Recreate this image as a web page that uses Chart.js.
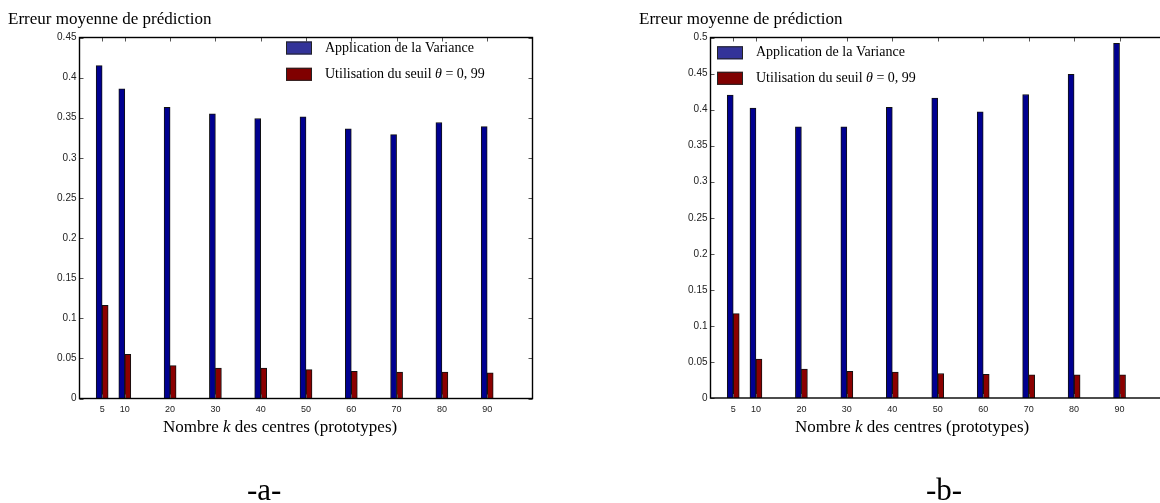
<!DOCTYPE html>
<html>
<head>
<meta charset="utf-8">
<script src="https://cdn.jsdelivr.net/npm/chart.js@4.4.0/dist/chart.umd.min.js"></script>
<style>
  html, body { margin:0; padding:0; width:1160px; height:503px; overflow:hidden; background:#fff; }
  .abs { position:absolute; white-space:nowrap; font-family:"Liberation Serif","Times New Roman",serif; color:#000; }
  canvas { position:absolute; top:0; }
</style>
</head>
<body>
<canvas id="cA" width="560" height="503" style="left:0px"></canvas>
<canvas id="cB" width="600" height="503" style="left:580px"></canvas>

<div class="abs" style="left:8px; top:10px; font-size:17px; line-height:17px;">Erreur moyenne de prédiction</div>
<div class="abs" style="left:639px; top:10px; font-size:17px; line-height:17px;">Erreur moyenne de prédiction</div>
<div class="abs" style="left:163px; top:418px; font-size:17px; line-height:17px;">Nombre <i>k</i> des centres (prototypes)</div>
<div class="abs" style="left:795px; top:418px; font-size:17px; line-height:17px;">Nombre <i>k</i> des centres (prototypes)</div>
<div class="abs" style="left:247px; top:474px; font-size:31px; line-height:31px;">-a-</div>
<div class="abs" style="left:926px; top:474px; font-size:31px; line-height:31px;">-b-</div>

<script>
// ---- data ----
const categories = [5, 10, 20, 30, 40, 50, 60, 70, 80, 90];
const xTicks = [5, 10, 20, 30, 40, 50, 60, 70, 80, 90];

const varianceA = [0.415, 0.386, 0.363, 0.355, 0.349, 0.351, 0.336, 0.329, 0.344, 0.339];
const seuilA    = [0.116, 0.055, 0.041, 0.038, 0.038, 0.036, 0.034, 0.033, 0.033, 0.032];

const varianceB = [0.420, 0.402, 0.376, 0.376, 0.403, 0.416, 0.397, 0.421, 0.449, 0.492];
const seuilB    = [0.117, 0.054, 0.040, 0.037, 0.036, 0.034, 0.033, 0.032, 0.032, 0.032];

const yTicksA = [0, 0.05, 0.1, 0.15, 0.2, 0.25, 0.3, 0.35, 0.4, 0.45];
const yTicksB = [0, 0.05, 0.1, 0.15, 0.2, 0.25, 0.3, 0.35, 0.4, 0.45, 0.5];

const seriesLabels = ['Application de la Variance', 'Utilisation du seuil '];
const thetaPart = ['θ', ' = 0, 99'];

// ---- plugins ----
const framePlugin = {
  id: 'frame',
  afterDatasetsDraw(chart) {
    const {ctx, chartArea: a, scales} = chart;
    ctx.save();
    ctx.strokeStyle = '#555';
    ctx.lineWidth = 1;
    const tl = 4;
    scales.y.ticks.forEach(t => {
      const y = Math.round(scales.y.getPixelForValue(t.value)) + 0.5;
      ctx.beginPath();
      ctx.moveTo(a.left, y); ctx.lineTo(a.left + tl, y);
      ctx.moveTo(a.right, y); ctx.lineTo(a.right - tl, y);
      ctx.stroke();
    });
    scales.x.ticks.forEach(t => {
      const x = Math.round(scales.x.getPixelForValue(t.value)) + 0.5;
      ctx.beginPath();
      ctx.moveTo(x, a.top); ctx.lineTo(x, a.top + tl);
      ctx.moveTo(x, a.bottom); ctx.lineTo(x, a.bottom - tl);
      ctx.stroke();
    });
    ctx.strokeStyle = '#000';
    ctx.lineWidth = 1.4;
    ctx.strokeRect(a.left, a.top, a.right - a.left, a.bottom - a.top);
    ctx.restore();
  }
};

const legendPlugin = {
  id: 'customLegend',
  afterDraw(chart, args, opts) {
    const {ctx, chartArea: a} = chart;
    ctx.save();
    const colors = ['#333399', '#800000'];
    const bx = a.left + opts.dx, by0 = a.top + opts.dy;
    for (let i = 0; i < 2; i++) {
      const cy = by0 + i * opts.gap;
      ctx.fillStyle = colors[i];
      ctx.fillRect(bx, cy - 6.5, 26, 13);
      ctx.strokeStyle = '#222';
      ctx.lineWidth = 1;
      ctx.strokeRect(bx + 0.5, cy - 6, 25, 12);
      ctx.fillStyle = '#000';
      ctx.textBaseline = 'middle';
      let tx = bx + 39;
      ctx.font = '14px "Liberation Serif", serif';
      ctx.fillText(seriesLabels[i], tx, cy);
      if (i === 1) {
        tx += ctx.measureText(seriesLabels[i]).width;
        ctx.font = 'italic 14px "Liberation Serif", serif';
        ctx.fillText(thetaPart[0], tx, cy);
        tx += ctx.measureText(thetaPart[0]).width;
        ctx.font = '14px "Liberation Serif", serif';
        ctx.fillText(thetaPart[1], tx, cy);
      }
    }
    ctx.restore();
  }
};

function fmt(v) { return String(Number(Number(v).toFixed(2))); }

function makeChart(id, variance, seuil, yMax, yTicks, geo, legendGeo) {
  return new Chart(document.getElementById(id), {
    type: 'bar',
    data: {
      datasets: [
        { label: seriesLabels[0], data: categories.map((c, i) => ({x: c, y: variance[i]})),
          backgroundColor: '#000090', borderColor: '#111', borderWidth: 1, barThickness: 6 },
        { label: seriesLabels[1] + thetaPart.join(''), data: categories.map((c, i) => ({x: c, y: seuil[i]})),
          backgroundColor: '#8b0000', borderColor: '#111', borderWidth: 1, barThickness: 6 }
      ]
    },
    options: {
      responsive: false,
      animation: false,
      devicePixelRatio: 1,
      layout: { padding: { left: 0, right: geo.padRight, top: geo.top, bottom: geo.padBottom } },
      plugins: { legend: { display: false }, tooltip: { enabled: false }, customLegend: legendGeo },
      scales: {
        x: {
          type: 'linear', min: 0, max: 100, offset: false,
          grid: { display: false, drawTicks: false, offset: false },
          border: { display: false },
          afterBuildTicks: s => { s.ticks = xTicks.map(v => ({value: v})); },
          afterFit: s => { s.height = 30; },
          ticks: { autoSkip: false, maxRotation: 0, padding: 6, color: '#222',
                   font: { family: '"Liberation Sans", Arial, sans-serif', size: 9 },
                   callback: v => String(v) }
        },
        y: {
          min: 0, max: yMax,
          grid: { display: false, drawTicks: false },
          border: { display: false },
          afterBuildTicks: s => { s.ticks = yTicks.map(v => ({value: v})); },
          afterFit: s => { s.width = geo.yWidth; },
          ticks: { padding: 3, color: '#222',
                   font: { family: '"Liberation Sans", Arial, sans-serif', size: 10 },
                   callback: v => fmt(v) }
        }
      }
    },
    plugins: [framePlugin, legendPlugin]
  });
}

makeChart('cA', varianceA, seuilA, 0.45, yTicksA,
  { yWidth: 79.5, padRight: 560 - 532.5, top: 37.5, padBottom: 503 - 398.5 - 30 },
  { dx: 206.5, dy: 10.5, gap: 26.3 });
makeChart('cB', varianceB, seuilB, 0.5, yTicksB,
  { yWidth: 130.5, padRight: 600 - 585, top: 37.5, padBottom: 503 - 398 - 30 },
  { dx: 6.5, dy: 15.3, gap: 25.5 });
</script>
</body>
</html>
